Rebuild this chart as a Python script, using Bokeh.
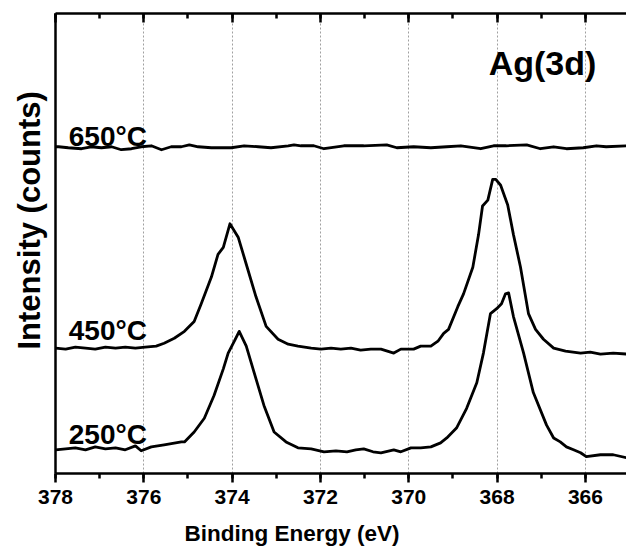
from bokeh.plotting import figure
from bokeh.models import (Range1d, LinearAxis, SingleIntervalTicker, FixedTicker, Label,
                          ColumnDataSource, Title, CustomJSTickFormatter)
from bokeh.embed import file_html
from bokeh.resources import INLINE

# Binding energy (eV) and intensity (counts, arbitrary) for each anneal temperature
ev_650 = [378.00, 377.93, 377.71, 377.41, 377.19, 376.96, 376.73, 376.51, 376.28, 376.06,
          375.83, 375.60, 375.38, 375.15, 374.97, 374.77, 374.47, 374.02, 373.73, 373.41,
          373.12, 372.73, 372.60, 372.44, 372.15, 371.92, 371.47, 371.02, 370.50, 370.27,
          369.89, 369.50, 369.14, 368.82, 368.37, 368.08, 367.79, 367.33, 367.02, 366.72,
          366.43, 366.05, 365.75, 365.53, 365.07]
int_650 = [331, 331, 330, 329, 331, 330, 331, 328, 329, 331,
           332, 328, 331, 331, 333, 331, 330, 330, 332, 331,
           330, 332, 333, 332, 332, 329, 332, 332, 333, 330,
           331, 330, 331, 332, 329, 332, 332, 333, 329, 331,
           329, 330, 332, 331, 332]

ev_450 = [378.00, 377.77, 377.55, 377.32, 377.10, 376.87, 376.64, 376.42, 376.19, 375.97,
          375.72, 375.54, 375.31, 375.08, 374.86, 374.70, 374.47, 374.32, 374.20, 374.05,
          373.86, 373.68, 373.46, 373.23, 372.96, 372.73, 372.51, 372.21, 371.99, 371.76,
          371.54, 371.31, 371.09, 370.86, 370.63, 370.34, 370.18, 369.89, 369.73, 369.50,
          369.34, 369.21, 369.10, 368.89, 368.76, 368.55, 368.42, 368.33, 368.21, 368.10,
          368.03, 367.92, 367.76, 367.63, 367.47, 367.29, 367.13, 366.95, 366.72, 366.45,
          366.11, 365.89, 365.66, 365.37, 365.07]
int_450 = [127, 126, 128, 127, 126, 128, 127, 128, 127, 128,
           129, 132, 137, 144, 154, 172, 199, 222, 229, 253,
           239, 212, 179, 149, 136, 131, 129, 127, 126, 127,
           126, 127, 125, 126, 126, 122, 126, 126, 129, 129,
           134, 142, 146, 169, 182, 209, 242, 271, 277, 298,
           298, 292, 272, 242, 209, 162, 146, 136, 127, 124,
           122, 123, 121, 122, 121]

ev_250 = [378.00, 377.77, 377.55, 377.32, 377.10, 376.87, 376.64, 376.42, 376.19, 376.06,
          375.83, 375.54, 375.15, 375.08, 374.86, 374.63, 374.41, 374.20, 374.09, 373.95,
          373.84, 373.68, 373.50, 373.28, 373.05, 372.78, 372.51, 372.21, 371.92, 371.65,
          371.40, 371.20, 371.02, 370.81, 370.63, 370.34, 370.18, 369.95, 369.73, 369.50,
          369.28, 369.14, 368.92, 368.69, 368.46, 368.31, 368.15, 368.01, 367.90, 367.81,
          367.74, 367.63, 367.40, 367.18, 366.88, 366.72, 366.57, 366.43, 366.27, 366.11,
          365.98, 365.66, 365.37, 365.07]
int_250 = [24, 25, 26, 24, 27, 25, 26, 24, 28, 23,
           27, 29, 32, 32, 42, 56, 79, 106, 122, 134,
           144, 129, 102, 69, 42, 32, 26, 25, 22, 23,
           22, 24, 25, 22, 21, 24, 22, 26, 26, 27,
           31, 36, 46, 66, 92, 122, 162, 167, 172, 182,
           183, 159, 122, 82, 49, 36, 32, 27, 24, 21,
           17, 19, 19, 16]

series_names = ["650°C", "450°C", "250°C"]
x_major_step = 2
x_minor_per_major = 2

FONT = "Liberation Sans"

p = figure(width=626, height=557, output_backend="svg", toolbar_location=None,
           x_range=Range1d(378, 365.07), y_range=Range1d(0, 466),
           min_border_left=54, min_border_right=0, min_border_top=13, min_border_bottom=78,
           background_fill_color="white", border_fill_color="white")
p.outline_line_color = None

ticker = SingleIntervalTicker(interval=x_major_step, num_minor_ticks=x_minor_per_major)

# bottom axis
xa = p.xaxis[0]
xa.ticker = ticker
xa.axis_line_width = 2.5
xa.axis_line_color = "black"
xa.major_tick_in = 0
xa.major_tick_out = 9
xa.minor_tick_in = 0
xa.minor_tick_out = 5
xa.major_tick_line_width = 2.5
xa.minor_tick_line_width = 2.5
xa.major_label_text_font = FONT
xa.major_label_text_font_style = "bold"
xa.major_label_text_font_size = "21px"
xa.major_label_text_color = "black"
xa.major_label_standoff = 7

# left axis (line only)
ya = p.yaxis[0]
ya.ticker = FixedTicker(ticks=[])
ya.axis_line_width = 2.5
ya.axis_line_color = "black"
ya.major_tick_in = 0
ya.major_tick_out = 0
ya.minor_tick_in = 0
ya.minor_tick_out = 0
ya.major_label_standoff = 0

# top axis with inward ticks, no labels
top = LinearAxis(ticker=SingleIntervalTicker(interval=x_major_step, num_minor_ticks=x_minor_per_major),
                 formatter=CustomJSTickFormatter(code="return ''"))
top.axis_line_width = 2.5
top.axis_line_color = "black"
top.major_tick_in = 9
top.major_tick_out = 0
top.minor_tick_in = 5
top.minor_tick_out = 0
top.major_tick_line_width = 2.5
top.minor_tick_line_width = 2.5
top.major_label_standoff = 0
p.add_layout(top, "above")

p.xgrid.ticker = ticker
p.xgrid.grid_line_color = "#a0a0a0"
p.xgrid.grid_line_dash = "2 2"
p.xgrid.grid_line_width = 1
p.ygrid.grid_line_color = None

for ev, inten in [(ev_650, int_650), (ev_450, int_450), (ev_250, int_250)]:
    src = ColumnDataSource(dict(x=ev, y=inten))
    p.line("x", "y", source=src, line_color="black", line_width=2.8, line_join="round")

label_pos = [(377.70, 341), (377.70, 145), (377.70, 40)]
for name, (lx, ly) in zip(series_names, label_pos):
    p.add_layout(Label(x=lx, y=ly, text=name, text_font=FONT, text_font_style="bold",
                       text_font_size="28px", text_color="black",
                       text_align="left", text_baseline="alphabetic"))

p.add_layout(Label(x=368.19, y=416, text="Ag(3d)", text_font=FONT, text_font_style="bold",
                   text_font_size="34px", text_color="black",
                   text_align="left", text_baseline="alphabetic"))

# axis titles
xt = Title(text="Binding Energy (eV)", align="left", offset=129, text_font=FONT,
           text_font_style="bold", text_font_size="22.5px", text_color="black", standoff=24)
p.add_layout(xt, "below")
yt = Title(text="Intensity (counts)", align="left", offset=124, text_font=FONT,
           text_font_style="bold", text_font_size="31px", text_color="black", standoff=18)
p.add_layout(yt, "left")

open("out.html", "w").write(file_html(p, INLINE))
